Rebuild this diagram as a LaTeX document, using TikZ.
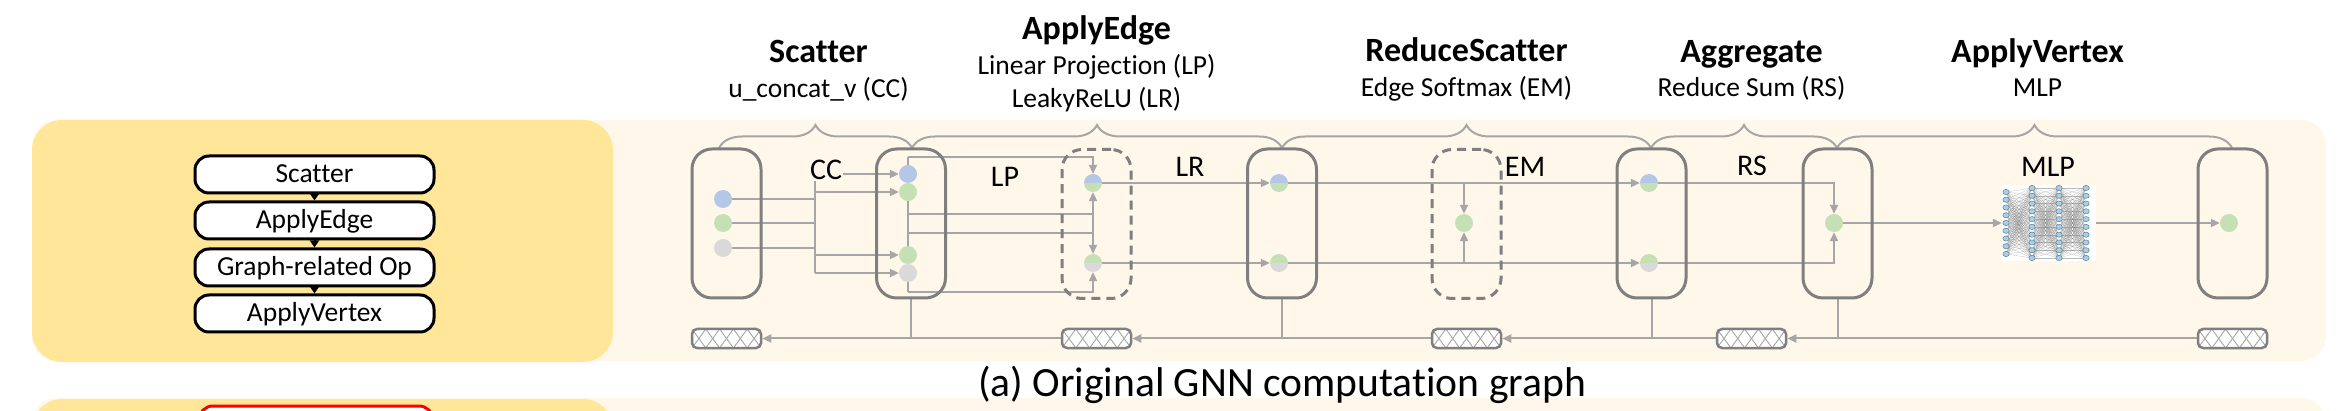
\documentclass[tikz,border=0pt]{standalone}
\usepackage{fontspec}
\setmainfont{Carlito}[Ligatures={NoCommon}]
\usetikzlibrary{arrows.meta,calc,decorations.pathreplacing,shapes.geometric}
\definecolor{yel}{HTML}{FFE699}
\definecolor{bei}{HTML}{FFF8EA}
\definecolor{boxg}{HTML}{7F7F7F}
\definecolor{lng}{HTML}{A6A6A6}
\definecolor{nblue}{HTML}{B4C7E7}
\definecolor{ngreen}{HTML}{C5E0B4}
\definecolor{ngray}{HTML}{D9D9D9}
\definecolor{mlpfill}{HTML}{A9CFE6}
\definecolor{mlpdraw}{HTML}{5E7F96}
\pgfdeclarelayer{bg}
\pgfdeclarelayer{lines}
\pgfsetlayers{bg,lines,main}
\tikzset{
  opbox/.style={draw=boxg, line width=3pt, rounded corners=20pt, minimum width=69pt, minimum height=149pt, inner sep=0pt},
  dbox/.style={opbox, dash pattern=on 9pt off 6pt},
  hatchbox/.style={draw=boxg, line width=2.5pt, rounded corners=5pt, fill=white, minimum width=69pt, minimum height=19pt, inner sep=0pt,
    path picture={
      \foreach \k in {-1,...,5}{
        \draw[lng, line width=0.9pt] ($(path picture bounding box.north west)+({\k*13.8},0)$) -- ++(13.8,19);
        \draw[lng, line width=0.9pt] ($(path picture bounding box.north west)+({\k*13.8+13.8},0)$) -- ++(-13.8,19);
      }}},
  vtx/.style={circle, minimum size=18pt, inner sep=0pt, fill=#1},
  svtx/.style 2 args={circle, minimum size=18pt, inner sep=0pt,
    path picture={
      \fill[#1] (path picture bounding box.north west) rectangle (path picture bounding box.east);
      \fill[#2] (path picture bounding box.west) rectangle (path picture bounding box.south east);}},
  conn/.style={draw=lng, line width=2pt},
  arr/.style={-{Triangle[length=9pt,width=8pt]}, lng},
  gbrace/.style={draw=lng, line width=2pt, decorate, decoration={brace, amplitude=23pt}},
  ttl/.style={font=\fontsize{34}{40}\selectfont\bfseries, anchor=base, inner sep=0pt},
  sub/.style={font=\fontsize{27.5}{32}\selectfont, anchor=base, inner sep=0pt},
  lbl/.style={font=\fontsize{30}{36}\selectfont, anchor=base, inner sep=0pt},
  stk/.style={draw=black, line width=3pt, rounded corners=14pt, fill=white, minimum width=239pt, minimum height=37pt, inner sep=0pt,
    font=\fontsize{27.5}{32}\selectfont, text height=18pt, text depth=1pt},
  stkarr/.style={-{Triangle[length=7pt,width=9pt]}, line width=2pt, black},
  mlpline/.style={draw=gray, line width=0.25pt, opacity=0.55},
  mlpnode/.style={ellipse, minimum width=6.4pt, minimum height=5.2pt, inner sep=0pt, fill=mlpfill, draw=mlpdraw, line width=0.5pt}
}
\begin{document}
\begin{tikzpicture}[x=1pt,y=-1pt]
\clip (0,0) rectangle (2341,411);
\useasboundingbox (0,0) rectangle (2341,411);
% panels
\begin{pgfonlayer}{bg}
\fill[white] (0,0) rectangle (2341,411);
\fill[bei, rounded corners=25pt] (32,120) rectangle (2326,361);
\fill[yel, rounded corners=30pt] (32,120) rectangle (613,362);
\fill[bei, rounded corners=25pt] (32,398) rectangle (2326,480);
\fill[yel, rounded corners=30pt] (32,399) rectangle (613,480);
\draw[red, line width=3pt, fill=white, rounded corners=14pt] (199,406) rectangle (433,450);
\end{pgfonlayer}

% left stack
\node[stk] (s1) at (314.5,174.5) {Scatter};
\node[stk] (s2) at (314.5,220.5) {ApplyEdge};
\node[stk] (s3) at (314.5,267.5) {Graph-related Op};
\node[stk] (s4) at (314.5,313.5) {ApplyVertex};
\draw[stkarr] (s1) -- (s2);
\draw[stkarr] (s2) -- (s3);
\draw[stkarr] (s3) -- (s4);

% titles
\node[ttl] (t1) at (818.5,63) {Scatter};
\node[sub] (u1) at (818.5,98) {u\_concat\_v (CC)};
\node[ttl] (t2) at (1096.5,40) {ApplyEdge};
\node[sub] (u2) at (1096.5,75) {Linear Projection (LP)};
\node[sub] (u2b) at (1096.5,108) {LeakyReLU (LR)};
\node[ttl] (t3) at (1466.5,62) {ReduceScatter};
\node[sub] (u3) at (1466.5,97) {Edge Softmax (EM)};
\node[ttl] (t4) at (1751.5,63) {Aggregate};
\node[sub] (u4) at (1751.5,97) {Reduce Sum (RS)};
\node[ttl] (t5) at (2037.5,63) {ApplyVertex};
\node[sub] (u5) at (2037.5,97) {MLP};

% braces
\draw[gbrace] (719,148) -- (912,148);
\draw[gbrace] (912,148) -- (1282,148);
\draw[gbrace] (1282,148) -- (1651,148);
\draw[gbrace] (1651,148) -- (1837,148);
\draw[gbrace] (1837,148) -- (2232,148);

% boxes
\node[opbox] (b1) at (726.5,223.5) {};
\node[opbox] (b2) at (911,223.5) {};
\node[dbox] (d1) at (1096.5,224) {};
\node[opbox] (b3) at (1282,223.5) {};
\node[dbox] (d2) at (1466.5,224) {};
\node[opbox] (b4) at (1651.5,223.5) {};
\node[opbox] (b5) at (1837.5,223.5) {};
\node[opbox] (b6) at (2232.5,223.5) {};

% hatched buffers
\node[hatchbox] (h1) at (726.5,338.5) {};
\node[hatchbox] (h2) at (1096.5,338.5) {};
\node[hatchbox] (h3) at (1466.5,338.5) {};
\node[hatchbox] (h4) at (1751.5,338.5) {};
\node[hatchbox] (h5) at (2232.5,338.5) {};

% vertices
\node[vtx=nblue] (b1a) at (723,199) {};
\node[vtx=ngreen] (b1b) at (723,223) {};
\node[vtx=ngray] (b1c) at (723,248) {};
\node[vtx=nblue] (b2a) at (908,174) {};
\node[vtx=ngreen] (b2b) at (908,192) {};
\node[vtx=ngreen] (b2c) at (908,255) {};
\node[vtx=ngray] (b2d) at (908,273) {};
\node[svtx={nblue}{ngreen}] (d1a) at (1093,183) {};
\node[svtx={ngreen}{ngray}] (d1b) at (1093,263) {};
\node[svtx={nblue}{ngreen}] (b3a) at (1279,183) {};
\node[svtx={ngreen}{ngray}] (b3b) at (1279,263) {};
\node[vtx=ngreen] (d2a) at (1464,223) {};
\node[svtx={nblue}{ngreen}] (b4a) at (1649,183) {};
\node[svtx={ngreen}{ngray}] (b4b) at (1649,263) {};
\node[vtx=ngreen] (b5a) at (1834,223) {};
\node[vtx=ngreen] (b6a) at (2229,223) {};

% MLP picture
\node[fill=white, minimum width=94pt, minimum height=76pt, inner sep=0pt] (mlp) at (2049,223) {};
\foreach \i in {0,...,8}{\foreach \j in {0,...,9}{\draw[mlpline] (2006,{192+\i*7.75}) -- (2032,{188+\j*7.78});}}
\foreach \i in {0,...,9}{\foreach \j in {0,...,9}{\draw[mlpline] (2032,{188+\i*7.78}) -- (2059,{188+\j*7.78}); \draw[mlpline] (2059,{188+\i*7.78}) -- (2086,{188+\j*7.78});}}
\foreach \i in {0,...,8}{\node[mlpnode] (ma\i) at (2006,{192+\i*7.75}) {};}
\foreach \i in {0,...,9}{\node[mlpnode] (mb\i) at (2032,{188+\i*7.78}) {}; \node[mlpnode] (mc\i) at (2059,{188+\i*7.78}) {}; \node[mlpnode] (md\i) at (2086,{188+\i*7.78}) {};}

% labels
\node[lbl, fill=bei, inner sep=1pt] (lcc) at (826,180) {CC};
\node[lbl] (llp) at (1005,187) {LP};
\node[lbl] (llr) at (1190,177) {LR};
\node[lbl] (lem) at (1525,177) {EM};
\node[lbl] (lrs) at (1752,176) {RS};
\node[lbl] (lmlp) at (2048,177) {MLP};

% caption
\node[font=\fontsize{41.6}{48}\selectfont, anchor=base, inner sep=0pt] (cap) at (1282,396) {(a) Original GNN computation graph};

% coordinates
\coordinate (busT) at (815,174);
\coordinate (busB) at (815,273);
\coordinate (b2top) at (908,157);
\coordinate (b2bot) at (908,292);
\coordinate (b2m1) at (908,214);
\coordinate (b2m2) at (908,233);
\coordinate (m1) at (1093,214);
\coordinate (m2) at (1093,233);

\begin{pgfonlayer}{lines}
% scatter
\draw[conn] (b1a) -- (b1a -| busT);
\draw[conn] (b1b) -- (b1b -| busT);
\draw[conn] (b1c) -- (b1c -| busT);
\draw[conn] (busT) -- (busB);
\draw[conn,arr] (busT) -- (b2a);
\draw[conn,arr] (b2b -| busT) -- (b2b);
\draw[conn,arr] (b2c -| busT) -- (b2c);
\draw[conn,arr] (busB) -- (b2d);
% apply edge
\draw[conn] (b2top) -- (b2bot);
\draw[conn,arr] (b2top) -| (d1a);
\draw[conn,arr] (b2bot) -| (d1b);
\draw[conn] (b2m1) -- (m1);
\draw[conn] (b2m2) -- (m2);
\draw[conn,arr] (m2) -- (d1a);
\draw[conn,arr] (m1) -- (d1b);
\draw[conn,arr] (d1a) -- (b3a);
\draw[conn,arr] (d1b) -- (b3b);
% reduce scatter
\draw[conn,arr] (b3a) -- (b4a);
\draw[conn,arr] (b3b) -- (b4b);
\draw[conn,arr] (d2a |- b3a) -- (d2a);
\draw[conn,arr] (d2a |- b3b) -- (d2a);
% aggregate
\draw[conn,arr] (b4a) -| (b5a);
\draw[conn,arr] (b4b) -| (b5a);
% apply vertex
\draw[conn,arr] (b5a) -- (mlp);
\draw[conn,arr] (mlp.east) -- (b6a);
% backward / buffer line
\draw[conn,arr] (h2.west) -- (h1.east);
\draw[conn] (b2.south) -- (b2.south |- h1.east);
\draw[conn,arr] (h3.west) -- (h2.east);
\draw[conn] (b3.south) -- (b3.south |- h2.east);
\draw[conn,arr] (h4.west) -- (h3.east);
\draw[conn] (b4.south) -- (b4.south |- h3.east);
\draw[conn,arr] (h5.west) -- (h4.east);
\draw[conn] (b5.south) -- (b5.south |- h4.east);
\end{pgfonlayer}
\end{tikzpicture}
\end{document}
